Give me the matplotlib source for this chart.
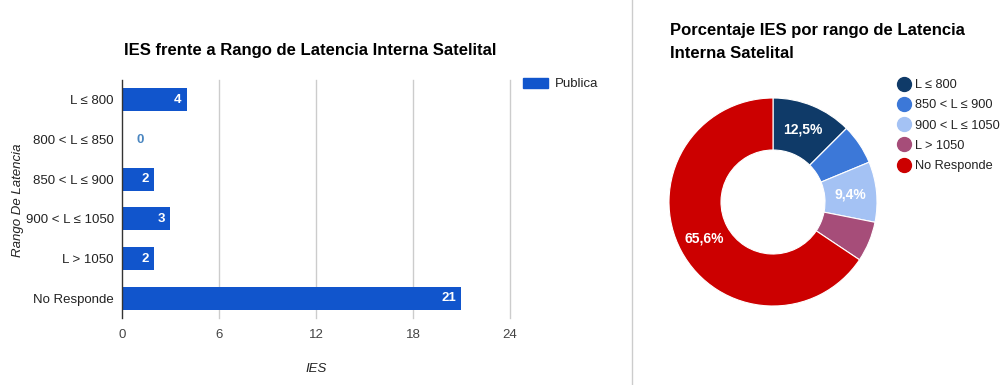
import matplotlib
matplotlib.use("Agg")
import matplotlib.pyplot as plt
from matplotlib.lines import Line2D

plt.rcParams['font.family'] = ['Liberation Sans', 'DejaVu Sans']

# Data
categories = ["L ≤ 800", "800 < L ≤ 850", "850 < L ≤ 900", "900 < L ≤ 1050", "L > 1050", "No Responde"]
publica = [4, 0, 2, 3, 2, 21]
x_ticks = [0, 6, 12, 18, 24]

pie_labels = ["L ≤ 800", "800 < L ≤ 850", "850 < L ≤ 900", "900 < L ≤ 1050", "L > 1050", "No Responde"]
pie_values = [4, 0, 2, 3, 2, 21]
pie_colors = ["#0f3a68", "#e69138", "#3c78d8", "#a4c2f4", "#a64d79", "#cc0000"]

W, H = 1003, 385
fig = plt.figure(figsize=(W / 100, H / 100), dpi=100)
fig.patch.set_facecolor("white")


def fx(px):
    return px / W


def fy(py):
    return 1 - py / H


# ---------------- Bar chart ----------------
bar_color = "#1155cc"
ax = fig.add_axes([fx(122), fy(318), fx(510) - fx(122), fy(80) - fy(318)])
ypos = list(range(len(categories)))
ax.barh(ypos, publica, height=0.58, color=bar_color, zorder=3)
ax.set_ylim(len(categories) - 0.5, -0.5)
ax.set_xlim(0, 24)
ax.set_xticks(x_ticks)
ax.set_xticklabels([str(t) for t in x_ticks])
ax.set_yticks(ypos)
ax.set_yticklabels(categories)
ax.tick_params(axis='x', length=0, pad=8, labelsize=9.5, labelcolor="#444444")
ax.tick_params(axis='y', length=0, pad=6, labelsize=9.5, labelcolor="#222222")
for t in x_ticks[1:]:
    ax.axvline(t, color="#cccccc", lw=1, zorder=1, clip_on=False)
for s in ["top", "right", "bottom"]:
    ax.spines[s].set_visible(False)
ax.spines["left"].set_color("#333333")
ax.spines["left"].set_linewidth(1)
ax.spines["left"].set_zorder(4)

for y, v in zip(ypos, publica):
    if v > 0:
        ax.text(v - 0.35, y, str(v), ha="right", va="center", color="white",
                fontsize=9.5, fontweight="bold", zorder=5)
    else:
        ax.text(0.9, y, str(v), ha="left", va="center", color="#4a86c0",
                fontsize=9.5, fontweight="bold", zorder=5)

ax.set_xlabel("IES", fontstyle="italic", fontsize=9.5, color="#222222", labelpad=16)
fig.text(fx(18), fy(200), "Rango De Latencia", rotation=90, ha="center", va="center",
         fontstyle="italic", fontsize=9.5, color="#222222")

fig.text(fx(310), fy(50), "IES frente a Rango de Latencia Interna Satelital",
         ha="center", va="center", fontsize=12, fontweight="bold", color="#000000")

# Legend of the bar chart
leg = fig.legend(handles=[plt.Rectangle((0, 0), 1, 1, color=bar_color)], labels=["Publica"],
                 loc="center left", bbox_to_anchor=(fx(523), fy(84)), frameon=False,
                 handlelength=1.9, handleheight=0.8, handletextpad=0.5, fontsize=9.5,
                 borderpad=0, borderaxespad=0)
for t in leg.get_texts():
    t.set_color("#222222")

# Separator between the two panels
fig.add_artist(Line2D([fx(632), fx(632)], [0, 1], color="#cccccc", lw=1))

# ---------------- Donut chart ----------------
R = 104
cx, cy = 773, 202
pax = fig.add_axes([fx(cx - R), fy(cy + R), fx(2 * R), 2 * R / H])


def pct_fmt(p):
    return (f"{p:.1f}%".replace(".", ",")) if p > 7 else ""


wedges, texts, autotexts = pax.pie(
    pie_values, colors=pie_colors, startangle=90, counterclock=False, radius=1,
    wedgeprops=dict(width=0.5, edgecolor="white", linewidth=0.8),
    autopct=pct_fmt, pctdistance=0.75,
    textprops=dict(color="white", fontsize=10, fontweight="bold"))
pax.set_xlim(-1, 1)
pax.set_ylim(-1, 1)
pax.set_aspect("auto")
pax.axis("off")

fig.text(fx(670), fy(30), "Porcentaje IES por rango de Latencia", ha="left", va="center",
         fontsize=12, fontweight="bold", color="#000000")
fig.text(fx(670), fy(53), "Interna Satelital", ha="left", va="center",
         fontsize=12, fontweight="bold", color="#000000")

handles = []
labels = []
for lab, val, col in zip(pie_labels, pie_values, pie_colors):
    if val > 0:
        handles.append(Line2D([], [], marker="o", linestyle="none", markersize=10,
                              markerfacecolor=col, markeredgecolor=col))
        labels.append(lab)
leg2 = fig.legend(handles=handles, labels=labels, loc="upper left",
                  bbox_to_anchor=(fx(898), fy(79)), frameon=False, fontsize=9.2,
                  handlelength=0.9, handletextpad=0.45, labelspacing=0.65,
                  borderpad=0, borderaxespad=0)
for t in leg2.get_texts():
    t.set_color("#222222")

fig.savefig("out.png", dpi=100, facecolor="white")
